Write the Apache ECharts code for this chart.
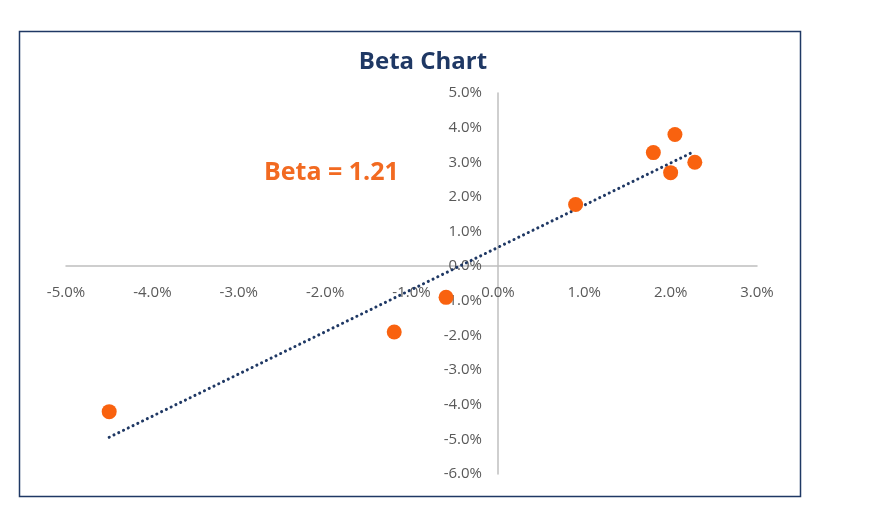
<!DOCTYPE html>
<html><head><meta charset="utf-8">
<script src="https://cdn.jsdelivr.net/npm/echarts@6/dist/echarts.min.js"></script>
<style>html,body{margin:0;padding:0;background:#fff}#c{width:871px;height:510px}</style>
</head><body><div id="c"></div>
<script>
const marketReturns = [-4.5, -1.2, -0.6, 0.9, 1.8, 2.0, 2.05, 2.28];
const stockReturns  = [-4.2, -1.9, -0.9, 1.78, 3.28, 2.7, 3.8, 3.0];
const trendX = [-4.5, 2.28];
const trendY = [-4.94, 3.32];
const titleText = 'Beta Chart';
const betaText = 'Beta = 1.21';

const points = marketReturns.map((x, i) => [x, stockReturns[i]]);
const trend = trendX.map((x, i) => [x, trendY[i]]);

const chart = echarts.init(document.getElementById('c'));
chart.setOption({
  animation: false,
  title: { text: titleText, left: 418, top: 45, textAlign: 'center',
    textStyle: { color: '#1f3864', fontSize: 24, fontWeight: 'bold', fontFamily: 'Open Sans' } },
  graphic: [
    { type: 'rect', shape: { x: 19.5, y: 31.5, width: 781, height: 465 },
      style: { fill: 'none', stroke: '#1f3864', lineWidth: 1.5 } },
    { type: 'text', left: 264, top: 160,
      style: { text: betaText, fill: '#f26a21', fontSize: 25, fontWeight: 'bold', fontFamily: 'Open Sans' } }
  ],
  grid: { left: 66, right: 114, top: 93, bottom: 36 },
  xAxis: { type: 'value', min: -5, max: 3, interval: 1, position: 'bottom', offset: -208,
    axisLine: { onZero: false, lineStyle: { color: '#bfbfbf', width: 1.5 } },
    axisTick: { show: false }, splitLine: { show: false },
    axisLabel: { margin: 19, color: '#595959', fontSize: 15, fontFamily: 'Open Sans',
      formatter: v => v.toFixed(1) + '%' } },
  yAxis: { type: 'value', min: -6, max: 5, interval: 1, position: 'left', offset: -432,
    axisLine: { onZero: false, lineStyle: { color: '#bfbfbf', width: 1.5 } },
    axisTick: { show: false }, splitLine: { show: false },
    axisLabel: { margin: 16, color: '#595959', fontSize: 15, fontFamily: 'Open Sans',
      formatter: v => v.toFixed(1) + '%' } },
  series: [
    { type: 'line', data: trend, symbol: 'none', z: 3,
      lineStyle: { color: '#1f3864', width: 3, type: [0.1, 5.2], cap: 'round' } },
    { type: 'scatter', data: points, symbolSize: 15, z: 4,
      itemStyle: { color: '#f9620f', opacity: 1 } }
  ]
});
</script></body></html>
